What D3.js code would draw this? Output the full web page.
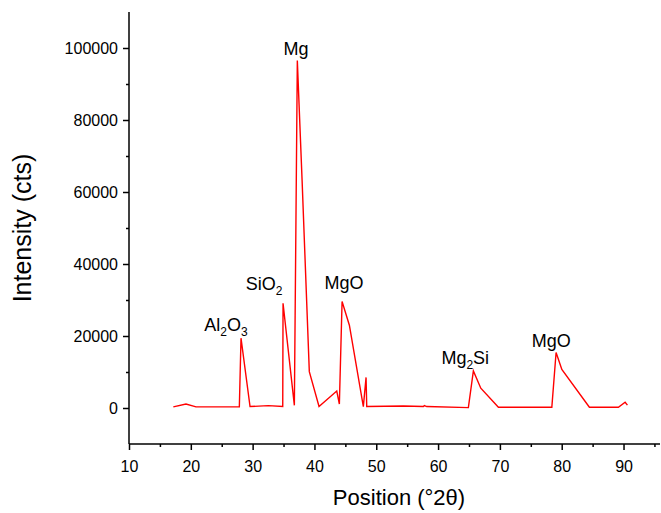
<!DOCTYPE html>
<html>
<head>
<meta charset="utf-8">
<script src="https://cdn.jsdelivr.net/npm/d3@7"></script>
<style>
  html, body { margin: 0; padding: 0; background: #fff; }
  svg { display: block; font-family: "Liberation Sans", Arial, sans-serif; }
</style>
</head>
<body>
<svg id="chart" width="661" height="513"></svg>
<script>
// ---- data ----
const positions = [17.17, 19.22, 20.84, 27.85, 28.12, 29.58, 32.54, 34.87, 34.92, 36.75,
  37.23, 38.0, 39.17, 40.74, 43.61, 44.03, 44.47, 45.65, 47.91, 48.35,
  48.46, 54.39, 57.62, 57.78, 58.17, 64.9, 65.71, 66.91, 69.76, 78.4,
  79.09, 80.02, 84.48, 89.17, 90.26, 90.63];
const intensities = [300, 1100, 300, 300, 19400, 400, 650, 400, 29100, 750,
  96500, 63300, 10100, 400, 4700, 1100, 29600, 23000, 400, 8500,
  400, 550, 400, 650, 400, 100, 10300, 5500, 200, 200,
  15400, 10700, 200, 200, 1600, 800];
const peakNames = [["Al", "2", "O", "3"], ["Si", "O", "2"], ["Mg"], ["MgO"], ["Mg", "2", "Si"], ["MgO"]];
const peakSubs = [[false, true, false, true], [false, false, true], [false], [false], [false, true, false], [false]];
const peakX = [25.7, 31.85, 37.0, 44.8, 64.4, 78.3];
const peakY = [21400, 32800, 98000, 33000, 12200, 17000];
const xTicks = [10, 20, 30, 40, 50, 60, 70, 80, 90];
const xMinor = [15, 25, 35, 45, 55, 65, 75, 85, 95];
const yTicks = [0, 20000, 40000, 60000, 80000, 100000];
const yMinor = [10000, 30000, 50000, 70000, 90000];

// ---- layout ----
const svg = d3.select("#chart");
const mLeft = 129, mRight = 660, mTop = 12, mBottom = 444;
const x = d3.scaleLinear().domain([10, 95.9]).range([mLeft, mRight]);
const y = d3.scaleLinear().domain([-10000, 110000]).range([mBottom, mTop]);

// line
const pts = positions.map((p, i) => [p, intensities[i]]);
svg.append("path")
  .datum(pts)
  .attr("fill", "none")
  .attr("stroke", "#ff0000")
  .attr("stroke-width", 1.4)
  .attr("stroke-linejoin", "miter")
  .attr("d", d3.line().x(d => x(d[0])).y(d => y(d[1])));

// x axis
const gx = svg.append("g").attr("transform", `translate(0,${mBottom})`);
gx.call(d3.axisBottom(x).tickValues(xMinor.filter(v => v <= x.domain()[1])).tickSize(3).tickFormat(""));
gx.call(g => g.select(".domain").remove());
const gx2 = svg.append("g").attr("transform", `translate(0,${mBottom})`)
  .call(d3.axisBottom(x).tickValues(xTicks).tickSize(6).tickPadding(11).tickFormat(d3.format("d")));
gx2.select(".domain").attr("stroke-width", 1.5).attr("d", `M${mLeft},0H${mRight}`);
gx2.selectAll("text").attr("font-size", 16).attr("fill", "#000").attr("font-family", "Liberation Sans, Arial, sans-serif");

// y axis
const gy = svg.append("g").attr("transform", `translate(${mLeft},0)`);
gy.call(d3.axisLeft(y).tickValues(yMinor).tickSize(3).tickFormat(""));
gy.call(g => g.select(".domain").remove());
const gy2 = svg.append("g").attr("transform", `translate(${mLeft},0)`)
  .call(d3.axisLeft(y).tickValues(yTicks).tickSize(6).tickPadding(5).tickFormat(d3.format("d")));
gy2.select(".domain").attr("stroke-width", 1.5).attr("d", `M0,${mTop}V${mBottom}`);
gy2.selectAll("text").attr("font-size", 16).attr("fill", "#000").attr("font-family", "Liberation Sans, Arial, sans-serif");
svg.selectAll(".tick line").attr("stroke", "#000").attr("stroke-width", 1.5);

// titles
svg.append("text")
  .attr("x", 399).attr("y", 505)
  .attr("text-anchor", "middle").attr("font-size", 22).attr("fill", "#000")
  .text("Position (°2θ)");
svg.append("text")
  .attr("transform", `translate(31,228) rotate(-90)`)
  .attr("text-anchor", "middle").attr("font-size", 25).attr("fill", "#000")
  .text("Intensity (cts)");

// peak labels
peakNames.forEach((parts, i) => {
  const t = svg.append("text")
    .attr("x", x(peakX[i])).attr("y", y(peakY[i]))
    .attr("text-anchor", "middle").attr("font-size", 18).attr("fill", "#000");
  parts.forEach((s, j) => {
    const sub = peakSubs[i][j];
    const ts = t.append("tspan").text(s);
    if (sub) ts.attr("font-size", 12).attr("dy", 5);
    else if (j > 0 && peakSubs[i][j - 1]) ts.attr("dy", -5);
  });
});
</script>
</body>
</html>
